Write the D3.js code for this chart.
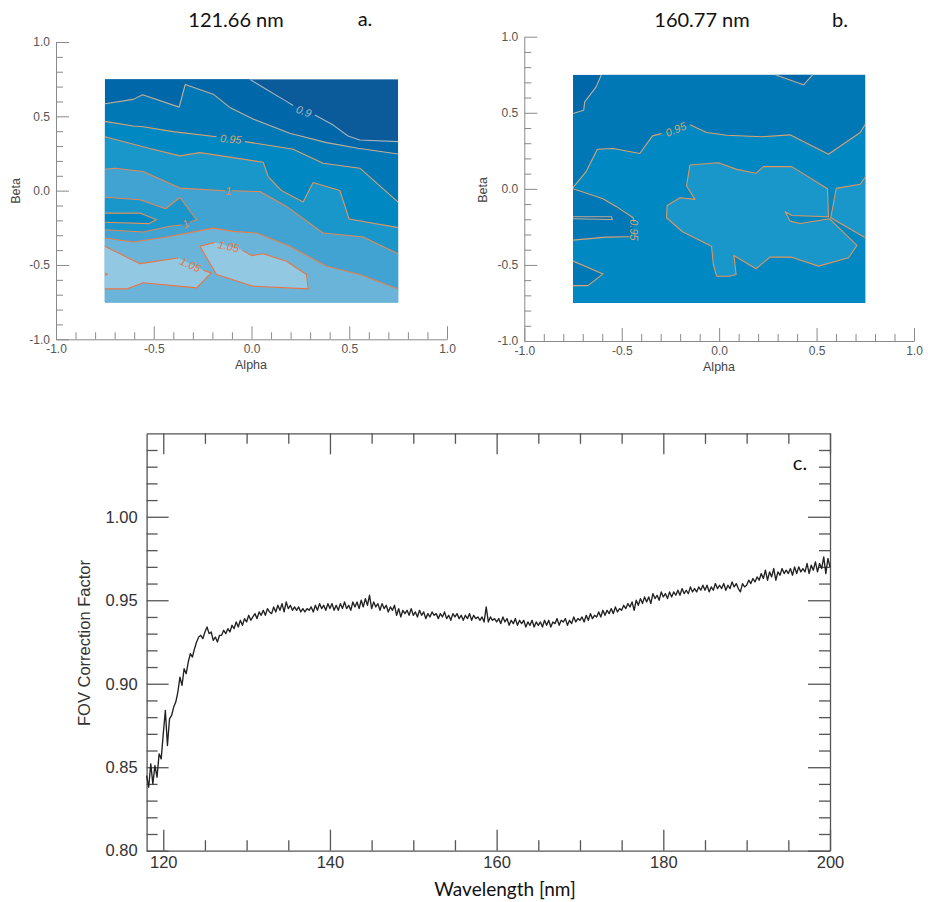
<!DOCTYPE html>
<html><head><meta charset="utf-8">
<script src="https://cdn.jsdelivr.net/npm/d3@7"></script>
<style>body{margin:0;background:#fff}svg{display:block}</style>
</head><body>
<script>
// ---------------- DATA ----------------
// contour levels and colour bands (shared by panels a and b)
const contourLevels = [0.9, 0.925, 0.95, 0.975, 1.0, 1.025, 1.05];
const bandColors = ["#0b5a9a", "#0067a9", "#0078b6", "#0088c3", "#1997cb", "#41a3d1", "#6ab4da", "#92c8e2"];
const levelLineColors = ["#a9b4c0", "#c2ae98", "#d9a272", "#df955f", "#e38857", "#e77e4b", "#ea7440"];

// axis ticks for panels a and b
const abTicks = [-1.0, -0.5, 0.0, 0.5, 1.0];
const abTickLabels = ["-1.0", "-0.5", "0.0", "0.5", "1.0"];
const abMinorStep = 0.1;

// panel a : 121.66 nm  (contour lines in [alpha, beta]; null = label gap)
const panelABase = 0.89;
const panelAContours = [
  {level: 0.9, side: "above", closed: false,
   pts: [[-0.009,0.750],[0.060,0.694],[0.162,0.614],[0.213,0.573],null,[0.324,0.509],[0.418,0.441],[0.494,0.368],[0.554,0.341],[0.750,0.330]],
   edge: [[0.75,-0.75],[-0.75,-0.75],[-0.75,0.75]]},
  {level: 0.925, side: "above", closed: false,
   pts: [[-0.750,0.585],[-0.605,0.614],[-0.557,0.645],[-0.370,0.562],[-0.339,0.714],[-0.196,0.649],[-0.111,0.560],[0.008,0.482],[0.196,0.386],[0.384,0.323],[0.545,0.285],[0.750,0.247]],
   edge: [[0.75,-0.75],[-0.75,-0.75]]},
  {level: 0.95, side: "above", closed: false,
   pts: [[-0.750,0.466],[-0.605,0.435],[-0.554,0.430],[-0.401,0.397],[-0.179,0.363],null,[-0.034,0.330],[0.213,0.278],[0.366,0.184],[0.554,0.151],[0.750,-0.077]],
   edge: [[0.75,-0.75],[-0.75,-0.75]]},
  {level: 0.975, side: "above", closed: false,
   pts: [[-0.750,0.363],[-0.520,0.283],[-0.366,0.234],[-0.264,0.256],[0.060,0.191],[0.085,0.095],[0.153,0.001],[0.264,-0.077],[0.315,0.055],[0.452,0.001],[0.499,-0.191],[0.750,-0.249]],
   edge: [[0.75,-0.75],[-0.75,-0.75]]},
  {level: 1.0, side: "above", closed: false,
   pts: [[-0.750,0.144],[-0.699,0.151],[-0.554,0.129],[-0.366,0.017],[-0.136,-0.001],null,[-0.099,-0.001],[0.043,-0.006],[0.179,-0.106],[0.366,-0.285],[0.571,-0.312],[0.750,-0.424]],
   edge: [[0.75,-0.75],[-0.75,-0.75]]},
  {level: 1.0, side: "below", closed: false,
   pts: [[-0.750,-0.044],[-0.571,-0.061],[-0.440,-0.122],[-0.366,-0.046],[-0.281,-0.196],[-0.315,-0.213],null,[-0.358,-0.231],[-0.418,-0.240],[-0.554,-0.278],[-0.750,-0.263]],
   edge: []},
  {level: 0.975, side: "below", closed: false,
   pts: [[-0.750,-0.151],[-0.571,-0.151],[-0.486,-0.196],[-0.528,-0.222],[-0.750,-0.213]],
   edge: []},
  {level: 1.025, side: "above", closed: false,
   pts: [[-0.750,-0.319],[-0.605,-0.345],[-0.435,-0.312],[-0.196,-0.252],[-0.094,-0.274],[0.026,-0.285],[0.196,-0.374],[0.384,-0.509],[0.554,-0.564],[0.750,-0.661]],
   edge: [[0.75,-0.75],[-0.75,-0.75]]},
  {level: 1.05, side: "above", closed: false,
   pts: [[-0.750,-0.374],[-0.571,-0.491],[-0.375,-0.453],null,[-0.247,-0.536],[-0.205,-0.553],[-0.281,-0.654],[-0.554,-0.620],[-0.639,-0.661],[-0.750,-0.661]],
   edge: []},
  {level: 1.05, side: "above", closed: true,
   pts: [[-0.264,-0.374],[-0.188,-0.348],null,[-0.046,-0.401],[0.000,-0.437],[0.060,-0.424],[0.179,-0.475],[0.281,-0.564],[0.290,-0.661],[0.008,-0.643],[-0.179,-0.564]],
   edge: []},
  {level: 1.05, side: "above", closed: false,
   pts: [[-0.750,-0.553],[-0.738,-0.562],[-0.750,-0.571]],
   edge: []}
];
const panelALabels = [
  {text: "0.9",  a: 0.268,  b: 0.535,  angle: 20,  level: 0.9},
  {text: "0.95", a: -0.106, b: 0.348,  angle: 5,   level: 0.95},
  {text: "1",    a: -0.118, b: 0.000,  angle: 0,   level: 1.0},
  {text: "1",    a: -0.337, b: -0.222, angle: -25, level: 1.0},
  {text: "1.05", a: -0.312, b: -0.497, angle: 25,  level: 1.05},
  {text: "1.05", a: -0.117, b: -0.374, angle: 12,  level: 1.05}
];

// panel b : 160.77 nm
const panelBBase = 0.91;
const panelBContours = [
  {level: 0.925, side: "above", closed: false,
   pts: [[-0.604,0.750],[-0.633,0.667],[-0.690,0.572],[-0.695,0.517],[-0.750,0.495]],
   edge: [[-0.75,-0.75],[0.75,-0.75],[0.75,0.75]]},
  {level: 0.925, side: "below", closed: false,
   pts: [[0.287,0.750],[0.433,0.684],[0.481,0.750]],
   edge: []},
  {level: 0.95, side: "above", closed: false,
   pts: [[-0.750,0.008],[-0.681,0.117],[-0.625,0.260],[-0.544,0.265],[-0.407,0.232],[-0.342,0.348],[-0.296,0.363],null,[-0.150,0.421],[-0.064,0.370],[0.039,0.352],[0.219,0.342],[0.364,0.355],[0.561,0.227],[0.724,0.370],[0.750,0.425]],
   edge: [[0.75,-0.75],[-0.75,-0.75]]},
  {level: 0.95, side: "below", closed: false,
   pts: [[-0.750,0.001],[-0.596,-0.065],[-0.527,-0.117],[-0.441,-0.190],[-0.438,-0.219],null,[-0.459,-0.315],[-0.579,-0.317],[-0.750,-0.337]],
   edge: []},
  {level: 0.95, side: "below", closed: false,
   pts: [[-0.750,-0.475],[-0.596,-0.559],[-0.673,-0.636],[-0.750,-0.636]],
   edge: []},
  {level: 0.925, side: "below", closed: false,
   pts: [[-0.750,-0.183],[-0.553,-0.183],[-0.548,-0.201],[-0.750,-0.197]],
   edge: []},
  {level: 0.975, side: "above", closed: true,
   pts: [[-0.150,0.157],[-0.004,0.172],[0.090,0.128],[0.188,0.102],[0.227,0.146],[0.373,0.146],[0.556,0.001],[0.561,-0.183],[0.373,-0.175],[0.339,-0.150],[0.364,-0.212],[0.416,-0.228],[0.567,-0.197],[0.707,-0.372],[0.664,-0.453],[0.510,-0.508],[0.373,-0.449],[0.261,-0.449],[0.189,-0.525],[0.076,-0.438],[0.087,-0.563],[0.052,-0.574],[-0.013,-0.574],[-0.030,-0.497],[-0.039,-0.377],[-0.188,-0.282],[-0.270,-0.190],[-0.267,-0.109],[-0.201,-0.058],[-0.124,-0.069],[-0.167,0.019]],
   edge: []},
  {level: 0.975, side: "above", closed: false,
   pts: [[0.750,0.078],[0.724,0.030],[0.601,0.003],[0.573,-0.190],[0.750,-0.322]],
   edge: []}
];
const panelBLabels = [
  {text: "0.95", a: -0.223, b: 0.392,  angle: -22, level: 0.95},
  {text: "0.95", a: -0.436, b: -0.270, angle: 90,  level: 0.95}
];

// panel c : FOV correction factor vs wavelength (118 .. 200 nm, 0.25 nm sampling)
const wlStart = 118, wlStep = 0.25;
const fovValues = [
0.845,0.838,0.852,0.840, 0.851,0.844,0.858,0.855, 0.870,0.884,0.863,0.879, 0.881,0.886,0.889,0.895,
0.904,0.899,0.909,0.906, 0.913,0.918,0.916,0.921, 0.925,0.928,0.929,0.927, 0.931,0.934,0.930,0.931,
0.926,0.928,0.925,0.929, 0.929,0.932,0.930,0.933, 0.931,0.935,0.933,0.937, 0.934,0.938,0.935,0.939,
0.937,0.941,0.938,0.940, 0.942,0.939,0.943,0.941, 0.944,0.941,0.945,0.943, 0.942,0.946,0.943,0.947,
0.944,0.948,0.943,0.949, 0.945,0.947,0.944,0.946, 0.944,0.946,0.943,0.945, 0.943,0.945,0.944,0.946,
0.943,0.947,0.944,0.948, 0.945,0.947,0.944,0.948, 0.945,0.948,0.944,0.947, 0.944,0.948,0.945,0.949,
0.945,0.947,0.944,0.949, 0.946,0.949,0.945,0.950, 0.946,0.951,0.947,0.953, 0.945,0.949,0.946,0.948,
0.944,0.948,0.945,0.947, 0.943,0.946,0.944,0.947, 0.941,0.945,0.940,0.944, 0.942,0.944,0.941,0.945,
0.941,0.943,0.940,0.944, 0.941,0.943,0.939,0.942, 0.940,0.943,0.941,0.942, 0.939,0.942,0.940,0.943,
0.939,0.941,0.938,0.942, 0.940,0.942,0.939,0.941, 0.938,0.941,0.939,0.942, 0.938,0.941,0.939,0.940,
0.938,0.940,0.937,0.946, 0.937,0.940,0.938,0.939, 0.937,0.939,0.936,0.940, 0.937,0.939,0.935,0.938,
0.936,0.939,0.935,0.938, 0.936,0.938,0.934,0.937, 0.935,0.938,0.934,0.937, 0.935,0.937,0.934,0.938,
0.935,0.938,0.934,0.937, 0.936,0.939,0.935,0.938, 0.937,0.939,0.935,0.938, 0.936,0.940,0.937,0.939,
0.938,0.940,0.937,0.941, 0.938,0.942,0.939,0.941, 0.940,0.943,0.940,0.944, 0.941,0.944,0.942,0.945,
0.942,0.946,0.943,0.945, 0.944,0.947,0.945,0.948, 0.946,0.949,0.944,0.950, 0.947,0.951,0.948,0.952,
0.949,0.952,0.948,0.954, 0.951,0.953,0.950,0.955, 0.952,0.954,0.951,0.955, 0.952,0.955,0.953,0.956,
0.953,0.957,0.954,0.956, 0.954,0.958,0.955,0.957, 0.955,0.958,0.956,0.959, 0.956,0.959,0.955,0.958,
0.956,0.960,0.957,0.959, 0.957,0.960,0.956,0.959, 0.957,0.961,0.958,0.960, 0.957,0.955,0.960,0.958,
0.959,0.962,0.960,0.963, 0.961,0.964,0.962,0.966, 0.963,0.968,0.962,0.967, 0.964,0.969,0.962,0.967,
0.965,0.969,0.966,0.968, 0.966,0.969,0.965,0.970, 0.966,0.970,0.967,0.969, 0.967,0.972,0.966,0.971,
0.968,0.973,0.967,0.972, 0.969,0.976,0.966,0.975, 0.970
];
const cXTicks = [120, 140, 160, 180, 200];
const cXMinorStep = 5;
const cYTicks = [0.80, 0.85, 0.90, 0.95, 1.00];
const cYTickLabels = ["0.80", "0.85", "0.90", "0.95", "1.00"];
const cYMinorStep = 0.01;

// ---------------- DRAW ----------------
const HELV = "'Liberation Sans', Arial, Helvetica, sans-serif";
const CAL = "Lato, 'Open Sans', sans-serif";
const svg = d3.select("body").append("svg").attr("width", 928).attr("height", 902);
svg.append("rect").attr("width", 928).attr("height", 902).attr("fill", "#fff");

const bandScale = d3.scaleThreshold().domain(contourLevels).range(bandColors);
const lineScale = d3.scaleOrdinal().domain(contourLevels).range(levelLineColors);

function minorValues(lo, hi, step, majors) {
  const n = Math.round((hi - lo) / step);
  return d3.range(n + 1).map(i => +(lo + i * step).toFixed(6))
    .filter(v => !majors.some(m => Math.abs(m - v) < 1e-9));
}

function contourPanel(id, x, y, base, contours, labels) {
  const g = svg.append("g");
  const x0 = x(-0.75), x1 = x(0.75), y0 = y(0.75), y1 = y(-0.75);
  svg.append("clipPath").attr("id", "clip" + id).append("rect")
    .attr("x", x0).attr("y", y0).attr("width", x1 - x0).attr("height", y1 - y0);
  const cg = g.append("g").attr("clip-path", `url(#clip${id})`);
  cg.append("rect").attr("x", x0).attr("y", y0).attr("width", x1 - x0).attr("height", y1 - y0)
    .attr("fill", bandScale(base));
  const poly = d3.line().x(d => x(d[0])).y(d => y(d[1]));
  contours.forEach(c => {
    const pts = c.pts.filter(p => p).concat(c.edge);
    const v = c.side === "above" ? c.level + 1e-6 : c.level - 1e-6;
    cg.append("path").attr("d", poly(pts) + "Z").attr("fill", bandScale(v))
      .attr("stroke", bandScale(v)).attr("stroke-width", 0.4);
  });
  const ln = d3.line().defined(d => d != null).x(d => x(d[0])).y(d => y(d[1]));
  contours.forEach(c => {
    const pts = c.closed ? c.pts.concat([c.pts[0]]) : c.pts;
    cg.append("path").attr("d", ln(pts)).attr("fill", "none")
      .attr("stroke", lineScale(c.level)).attr("stroke-width", 1.1).attr("stroke-linejoin", "round");
  });
  labels.forEach(l => {
    cg.append("text").attr("transform", `translate(${x(l.a)},${y(l.b)}) rotate(${l.angle})`)
      .attr("text-anchor", "middle").attr("dominant-baseline", "central")
      .attr("font-family", HELV).attr("font-size", 11).attr("font-style", "italic")
      .attr("fill", lineScale(l.level)).text(l.text);
  });

  // axes
  const ax = g.append("g");
  const left = ax.append("g").attr("transform", `translate(${x(-1)},0)`);
  left.call(d3.axisLeft(y).tickValues(abTicks).tickFormat((d, i) => abTickLabels[i])
    .tickSizeInner(-13).tickSizeOuter(0).tickPadding(6));
  left.append("g").call(d3.axisLeft(y).tickValues(minorValues(-1, 1, abMinorStep, abTicks))
    .tickFormat("").tickSizeInner(-7).tickSizeOuter(0)).select(".domain").remove();
  const bottom = ax.append("g").attr("transform", `translate(0,${y(-1)})`);
  bottom.call(d3.axisBottom(x).tickValues(abTicks).tickFormat((d, i) => abTickLabels[i])
    .tickSizeInner(-13).tickSizeOuter(0).tickPadding(5));
  bottom.append("g").call(d3.axisBottom(x).tickValues(minorValues(-1, 1, abMinorStep, abTicks))
    .tickFormat("").tickSizeInner(-7).tickSizeOuter(0)).select(".domain").remove();
  ax.selectAll("path.domain").attr("stroke", "#8a8a8a");
  ax.selectAll(".tick line").attr("stroke", "#8a8a8a");
  ax.selectAll(".tick text").attr("font-size", 12).attr("font-family", HELV).attr("fill", "#555");
  return g;
}

// panel a
const xA = d3.scaleLinear().domain([-1, 1]).range([56, 447]);
const yA = d3.scaleLinear().domain([-1, 1]).range([339.3, 42]);
contourPanel("A", xA, yA, panelABase, panelAContours, panelALabels);
// panel b
const xB = d3.scaleLinear().domain([-1, 1]).range([524.3, 914]);
const yB = d3.scaleLinear().domain([-1, 1]).range([341, 36.7]);
contourPanel("B", xB, yB, panelBBase, panelBContours, panelBLabels);

function txt(x, y, s, size, family, fill, rot, weight) {
  svg.append("text").attr("transform", `translate(${x},${y})` + (rot ? ` rotate(${rot})` : ""))
    .attr("text-anchor", "middle").attr("dominant-baseline", "central")
    .attr("font-family", family).attr("font-size", size).attr("fill", fill)
    .attr("font-weight", weight || "normal").text(s);
}
txt(251, 365, "Alpha", 12.5, HELV, "#444");
txt(16, 191, "Beta", 12.5, HELV, "#444", -90);
txt(719, 367, "Alpha", 12.5, HELV, "#444");
txt(483, 190, "Beta", 12.5, HELV, "#444", -90);
txt(236, 19, "121.66 nm", 20, CAL, "#111");
txt(365, 18, "a.", 20, CAL, "#111");
txt(702, 19, "160.77 nm", 20, CAL, "#111");
txt(840, 19, "b.", 20, CAL, "#111");

// panel c
const xC = d3.scaleLinear().domain([118, 200]).range([146.6, 830]);
const yC = d3.scaleLinear().domain([0.80, 1.05]).range([850.7, 433.3]);
const gc = svg.append("g");
const cStroke = "#555";
const xMin = minorValues(120, 200, cXMinorStep, cXTicks);
const yMin = minorValues(0.80, 1.05, cYMinorStep, cYTicks.concat([1.05]));
const bC = gc.append("g").attr("transform", `translate(0,${yC(0.80)})`);
bC.call(d3.axisBottom(xC).tickValues(cXTicks).tickFormat(d3.format("d")).tickSizeInner(-21).tickSizeOuter(0).tickPadding(6));
bC.append("g").call(d3.axisBottom(xC).tickValues(xMin).tickFormat("").tickSizeInner(-10.5).tickSizeOuter(0)).select(".domain").remove();
const tC = gc.append("g").attr("transform", `translate(0,${yC(1.05)})`);
tC.call(d3.axisTop(xC).tickValues(cXTicks).tickFormat("").tickSizeInner(-21).tickSizeOuter(0));
tC.append("g").call(d3.axisTop(xC).tickValues(xMin).tickFormat("").tickSizeInner(-10.5).tickSizeOuter(0)).select(".domain").remove();
const lC = gc.append("g").attr("transform", `translate(${xC(118)},0)`);
lC.call(d3.axisLeft(yC).tickValues(cYTicks).tickFormat((d, i) => cYTickLabels[i]).tickSizeInner(-22).tickSizeOuter(0).tickPadding(9));
lC.append("g").call(d3.axisLeft(yC).tickValues(yMin).tickFormat("").tickSizeInner(-11).tickSizeOuter(0)).select(".domain").remove();
const rC = gc.append("g").attr("transform", `translate(${xC(200)},0)`);
rC.call(d3.axisRight(yC).tickValues(cYTicks).tickFormat("").tickSizeInner(-22).tickSizeOuter(0));
rC.append("g").call(d3.axisRight(yC).tickValues(yMin).tickFormat("").tickSizeInner(-11).tickSizeOuter(0)).select(".domain").remove();
gc.selectAll("path.domain").attr("stroke", cStroke).attr("stroke-width", 1.3);
gc.selectAll(".tick line").attr("stroke", cStroke).attr("stroke-width", 1.3);
gc.selectAll(".tick text").attr("font-size", 16.5).attr("font-family", HELV).attr("fill", "#333");

const fovData = fovValues.map((v, i) => [wlStart + i * wlStep, v]);
gc.append("path").datum(fovData)
  .attr("d", d3.line().x(d => xC(d[0])).y(d => yC(d[1])))
  .attr("fill", "none").attr("stroke", "#222").attr("stroke-width", 1.35).attr("stroke-linejoin", "round");

txt(84, 643, "FOV Correction Factor", 16.5, HELV, "#333", -90);
txt(505, 888, "Wavelength [nm]", 19, CAL, "#111");
txt(800, 462, "c.", 20, CAL, "#111");
</script>
</body></html>
